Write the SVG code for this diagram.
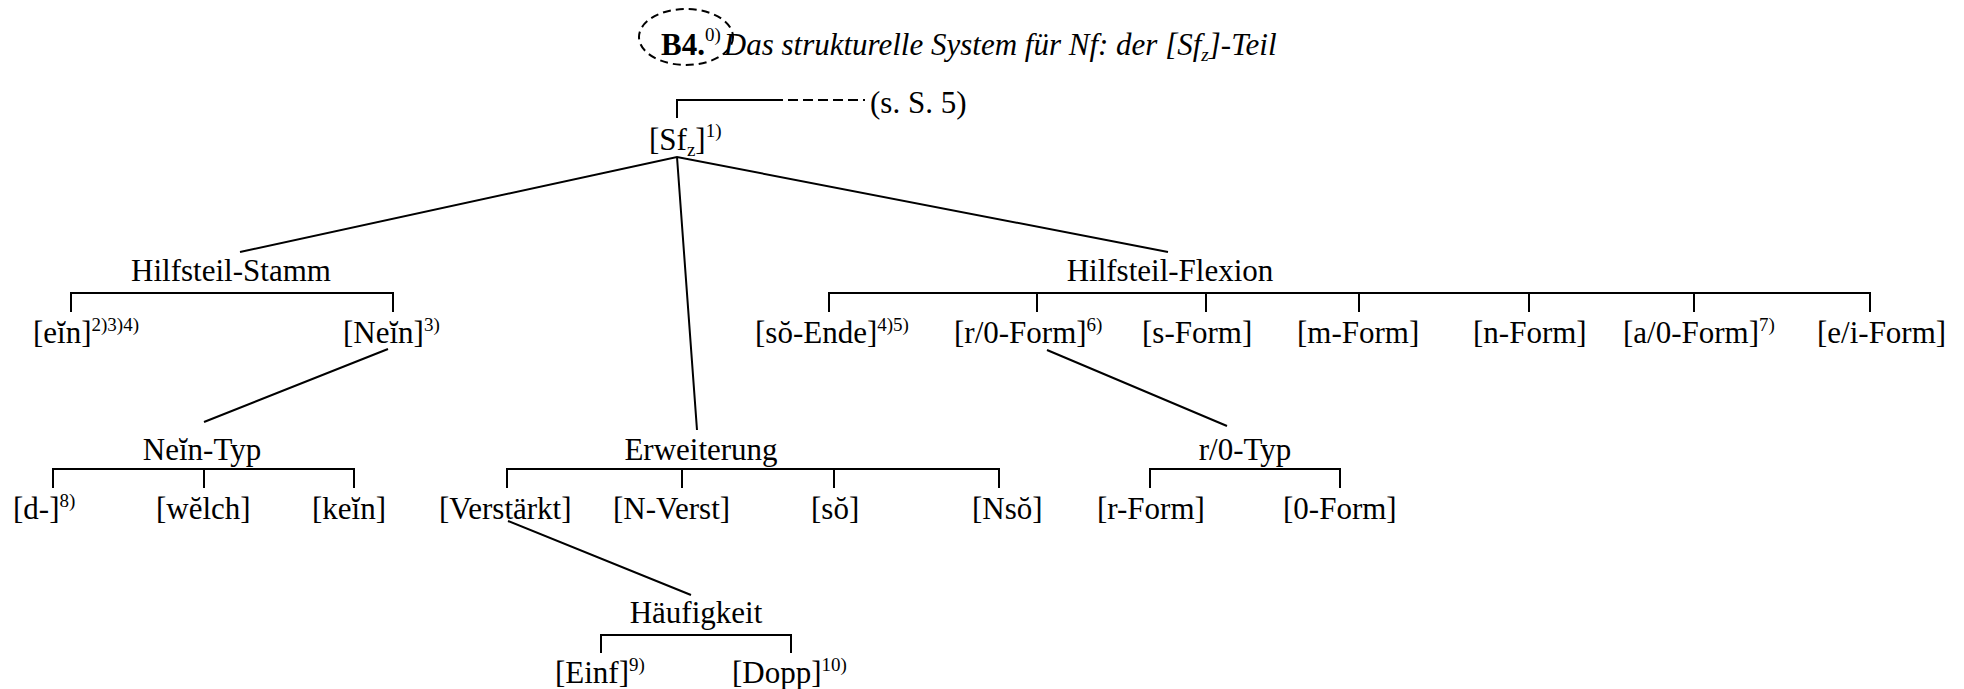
<svg xmlns="http://www.w3.org/2000/svg" width="1964" height="689" viewBox="0 0 1964 689">
<style>
text{font-family:"Liberation Serif","Times New Roman",serif;font-size:31px;fill:#000}
.sup{font-size:19px}
.it{font-style:italic}
.b{font-weight:bold}
.ln{stroke:#000;stroke-width:2;fill:none}
.dash{stroke:#000;stroke-width:2;fill:none;stroke-dasharray:10 5}
</style>
<rect width="1964" height="689" fill="#fff"/>
<g id="title">
<ellipse cx="686" cy="37" rx="47" ry="28" fill="none" stroke="#000" stroke-width="2" stroke-dasharray="8 5"/>
<text x="661" y="55"><tspan class="b">B4.</tspan><tspan class="sup" dy="-14">0)</tspan><tspan class="it" dy="14" dx="3">Das strukturelle System für Nf: der [Sf</tspan><tspan class="it sup" dy="6">z</tspan><tspan class="it" dy="-6">]-Teil</tspan></text>
</g>
<g id="connectors">
<path class="ln" d="M677 118V100H773"/>
<path class="dash" d="M773 100H865"/>
<path class="ln" d="M240 252L677 157L1168 252M677 157L697 430"/>
<path class="ln" d="M388 349L204 422M1047 350L1227 426M508 521L691 595"/>
<path class="ln" d="M71 312V293H393V312"/>
<path class="ln" d="M829 312V293H1870V312M1037 293V312M1206 293V312M1359 293V312M1529 293V312M1694 293V312"/>
<path class="ln" d="M53 488V469H354V488M204 469V488"/>
<path class="ln" d="M507 488V469H999V488M682 469V488M834 469V488"/>
<path class="ln" d="M1150 488V469H1340V488"/>
<path class="ln" d="M601 653V635H791V653"/>
</g>
<g id="root">
<text x="649" y="150">[Sf<tspan class="sup" dy="6">z</tspan><tspan dy="-6">]</tspan><tspan class="sup" dy="-13">1)</tspan></text>
<text x="870" y="113">(s. S. 5)</text>
</g>
<g id="hilfsteil-stamm"><text x="231" y="281" text-anchor="middle">Hilfsteil-Stamm</text></g>
<g id="ein"><text x="33" y="343">[eĭn]<tspan class="sup" dy="-12">2)3)4)</tspan></text></g>
<g id="nein"><text x="343" y="343">[Neĭn]<tspan class="sup" dy="-12">3)</tspan></text></g>
<g id="nein-typ"><text x="202" y="460" text-anchor="middle">Neĭn-Typ</text></g>
<g id="d"><text x="13" y="519">[d-]<tspan class="sup" dy="-12">8)</tspan></text></g>
<g id="welch"><text x="156" y="519">[wĕlch]</text></g>
<g id="kein"><text x="312" y="519">[keĭn]</text></g>
<g id="erweiterung"><text x="701" y="460" text-anchor="middle">Erweiterung</text></g>
<g id="verstaerkt"><text x="439" y="519">[Verstärkt]</text></g>
<g id="n-verst"><text x="613" y="519">[N-Verst]</text></g>
<g id="so"><text x="811" y="519">[sŏ]</text></g>
<g id="nso"><text x="972" y="519">[Nsŏ]</text></g>
<g id="haeufigkeit"><text x="696" y="623" text-anchor="middle">Häufigkeit</text></g>
<g id="einf"><text x="555" y="683">[Einf]<tspan class="sup" dy="-12">9)</tspan></text></g>
<g id="dopp"><text x="732" y="683">[Dopp]<tspan class="sup" dy="-12">10)</tspan></text></g>
<g id="hilfsteil-flexion"><text x="1170" y="281" text-anchor="middle">Hilfsteil-Flexion</text></g>
<g id="so-ende"><text x="755" y="343">[sŏ-Ende]<tspan class="sup" dy="-12">4)5)</tspan></text></g>
<g id="r0-form"><text x="954" y="343">[r/0-Form]<tspan class="sup" dy="-12">6)</tspan></text></g>
<g id="s-form"><text x="1142" y="343">[s-Form]</text></g>
<g id="m-form"><text x="1297" y="343">[m-Form]</text></g>
<g id="n-form"><text x="1473" y="343">[n-Form]</text></g>
<g id="a0-form"><text x="1623" y="343">[a/0-Form]<tspan class="sup" dy="-12">7)</tspan></text></g>
<g id="ei-form"><text x="1817" y="343">[e/i-Form]</text></g>
<g id="r0-typ"><text x="1245" y="460" text-anchor="middle">r/0-Typ</text></g>
<g id="r-form"><text x="1097" y="519">[r-Form]</text></g>
<g id="zero-form"><text x="1283" y="519">[0-Form]</text></g>
</svg>
